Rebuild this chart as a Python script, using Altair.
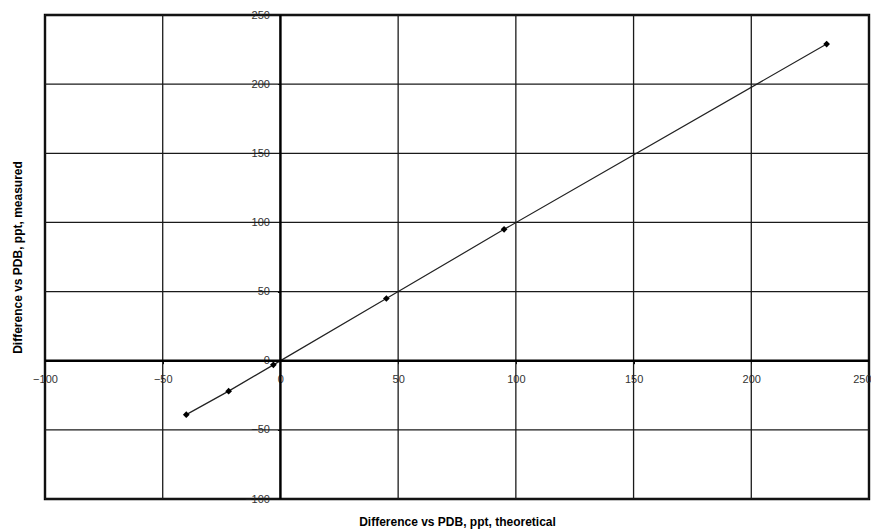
import altair as alt
import pandas as pd

# Data
x_theoretical = [-40, -22, -3, 45, 95, 232]
y_measured = [-39, -22, -3, 45, 95, 229]
tick_values = [-100, -50, 0, 50, 100, 150, 200, 250]
zero_value = [0]

x_domain = [-100, 250]
y_domain = [-100, 250]

W, H = 824, 484
FONT = "Liberation Sans"

pts = pd.DataFrame({"x": x_theoretical, "y": y_measured})
ticks = pd.DataFrame({"x": tick_values, "y": tick_values})
zero = pd.DataFrame({"x": zero_value, "y": zero_value})

xs = alt.Scale(domain=x_domain, nice=False, zero=False)
ys = alt.Scale(domain=y_domain, nice=False, zero=False)

# offsets so the label axes sit on the zero lines
y_axis_off = -W * (0 - x_domain[0]) / (x_domain[1] - x_domain[0])
x_axis_off = -H * (0 - y_domain[0]) / (y_domain[1] - y_domain[0])

last_test = f"datum.value == {x_domain[1]}"

x_axis = alt.Axis(
    orient="bottom", offset=x_axis_off, values=tick_values, grid=False,
    domain=False, ticks=True, tickSize=3, tickColor="black",
    labelPadding=10, labelFont=FONT, labelFontSize=11, labelColor="#333",
    labelFlush=False, labelOverlap=False, labelBound=False,
    labelAlign={"condition": {"test": last_test, "value": "right"}, "value": "center"},
    labelOffset={"condition": {"test": last_test, "value": 2}, "value": 0},
    title="Difference vs PDB, ppt, theoretical", titleFont=FONT,
    titleFontSize=12, titleFontWeight="bold", titleColor="black",
    titleX=W / 2, titleY=(506 - (H + x_axis_off)), titleBaseline="middle",
    titleAlign="center",
)
y_axis = alt.Axis(
    orient="left", offset=y_axis_off, values=tick_values, grid=False,
    domain=False, ticks=True, tickSize=3, tickColor="black",
    labelPadding=8, labelFont=FONT, labelFontSize=11, labelColor="#333",
    labelFlush=False, labelOverlap=False, labelBound=False,
    title="Difference vs PDB, ppt, measured", titleFont=FONT,
    titleFontSize=12, titleFontWeight="bold", titleColor="black",
    titleX=(17 - 45) + y_axis_off, titleY=H / 2, titleAngle=-90,
    titleBaseline="middle", titleAlign="center",
)

X = alt.X("x:Q", scale=xs, axis=x_axis)
Y = alt.Y("y:Q", scale=ys, axis=y_axis)

vgrid = alt.Chart(ticks).mark_rule(color="#1a1a1a", strokeWidth=1.3).encode(x=X)
hgrid = alt.Chart(ticks).mark_rule(color="#1a1a1a", strokeWidth=1.3).encode(y=Y)
vzero = alt.Chart(zero).mark_rule(color="black", strokeWidth=2.4).encode(x=X)
hzero = alt.Chart(zero).mark_rule(color="black", strokeWidth=2.4).encode(y=Y)

line = alt.Chart(pts).mark_line(color="#222", strokeWidth=1.2).encode(x=X, y=Y)
points = alt.Chart(pts).mark_point(
    shape="diamond", filled=True, size=45, color="black", opacity=1
).encode(x=X, y=Y)

chart = (
    alt.layer(line, points, vgrid, hgrid, vzero, hzero)
    .properties(
        width=W, height=H,
        autosize=alt.AutoSizeParams(type="none"),
        padding={"left": 37, "top": 7, "right": 2, "bottom": 32},
        background="white",
    )
    .configure_view(stroke="black", strokeWidth=2.4)
)

chart.save("out.html", embed_options={"renderer": "svg", "actions": False})
